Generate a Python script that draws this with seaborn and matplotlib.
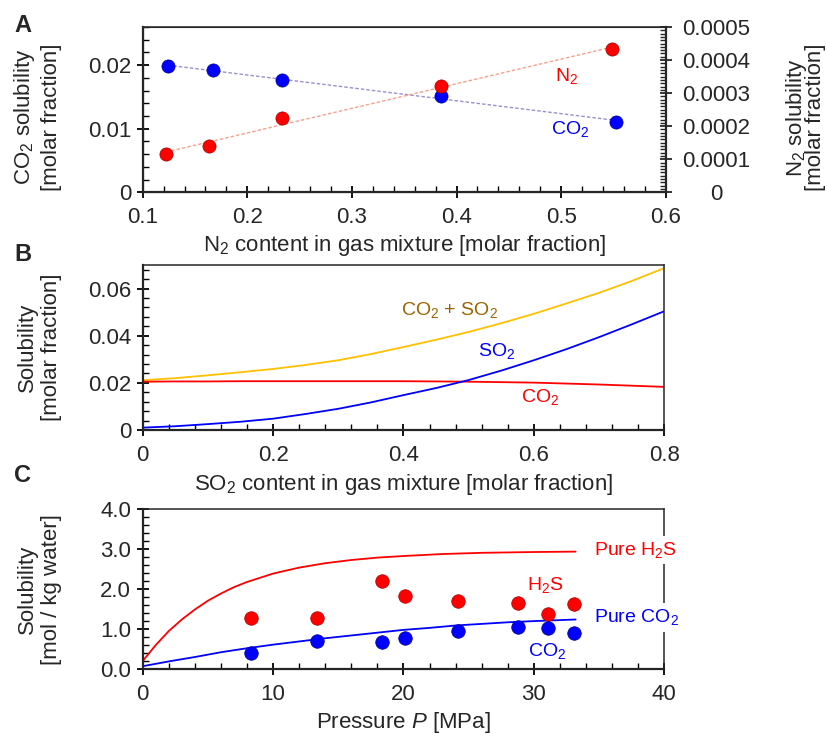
import matplotlib
matplotlib.use("Agg")
import matplotlib.pyplot as plt
import seaborn as sns
import pandas as pd
from matplotlib.ticker import MultipleLocator

sns.set_style("ticks")
plt.rcParams["font.family"] = ["Liberation Sans", "DejaVu Sans"]
plt.rcParams["mathtext.fontset"] = "custom"
plt.rcParams["mathtext.rm"] = "Liberation Sans"
plt.rcParams["mathtext.it"] = "Liberation Sans:italic"
plt.rcParams["mathtext.bf"] = "Liberation Sans:bold"

# ---- Panel A: CO2 / N2 solubility vs N2 content ----
n2_content_co2 = [0.124, 0.167, 0.2335, 0.385, 0.5525]
co2_solubility = [0.0199, 0.0192, 0.0176, 0.0151, 0.0111]
n2_content_n2 = [0.122, 0.1635, 0.2335, 0.385, 0.549]
n2_solubility = [0.000117, 0.000139, 0.000224, 0.000323, 0.000432]
a_xticks = [0.1, 0.2, 0.3, 0.4, 0.5, 0.6]
a_xticklabels = ["0.1", "0.2", "0.3", "0.4", "0.5", "0.6"]
a_yticks = [0, 0.01, 0.02]
a_yticklabels = ["0", "0.01", "0.02"]
a_y2ticks = [0, 0.0001, 0.0002, 0.0003, 0.0004, 0.0005]
a_y2ticklabels = ["0", "0.0001", "0.0002", "0.0003", "0.0004", "0.0005"]

# ---- Panel B: solubility vs SO2 content ----
so2_content = [0.0, 0.05, 0.1, 0.15, 0.2, 0.25, 0.3, 0.35, 0.4,
               0.45, 0.5, 0.55, 0.6, 0.65, 0.7, 0.75, 0.8]
so2_sol = [0.0010, 0.0016, 0.0025, 0.0035, 0.0048, 0.0068, 0.0090, 0.0117, 0.0148,
           0.0178, 0.0212, 0.0252, 0.0296, 0.0343, 0.0394, 0.0448, 0.0504]
co2_sol_b = [0.0205, 0.0206, 0.0206, 0.0207, 0.0207, 0.0207, 0.0207, 0.0207, 0.0207,
             0.0206, 0.0205, 0.0203, 0.0201, 0.0197, 0.0193, 0.0188, 0.0183]
total_sol = [0.0211, 0.0220, 0.0232, 0.0245, 0.0259, 0.0276, 0.0296, 0.0322, 0.0352,
             0.0383, 0.0416, 0.0453, 0.0493, 0.0537, 0.0582, 0.0632, 0.0687]
b_xticks = [0, 0.2, 0.4, 0.6, 0.8]
b_xticklabels = ["0", "0.2", "0.4", "0.6", "0.8"]
b_yticks = [0, 0.02, 0.04, 0.06]
b_yticklabels = ["0", "0.02", "0.04", "0.06"]

# ---- Panel C: solubility vs pressure ----
pressure_pts = [8.3, 13.35, 18.33, 20.15, 24.2, 28.8, 31.06, 33.05]
h2s_pts = [1.28, 1.28, 2.20, 1.83, 1.70, 1.66, 1.39, 1.64]
co2_pts = [0.39, 0.70, 0.68, 0.78, 0.95, 1.06, 1.03, 0.91]
pressure_h2s = [0, 1, 2, 3, 4, 5, 6, 7, 8, 10, 12, 14, 16, 18, 20, 23, 26, 30, 33.2]
pure_h2s = [0.20, 0.60, 0.95, 1.24, 1.49, 1.71, 1.89, 2.05, 2.18, 2.39, 2.54, 2.65,
            2.73, 2.79, 2.83, 2.88, 2.91, 2.93, 2.94]
pressure_co2 = [0, 2, 4, 6, 8, 10, 12, 14, 16, 18, 20, 22, 24, 26, 28, 30, 33.2]
pure_co2 = [0.07, 0.19, 0.30, 0.42, 0.52, 0.61, 0.69, 0.77, 0.84, 0.91, 0.98, 1.03,
            1.09, 1.13, 1.17, 1.20, 1.24]
c_xticks = [0, 10, 20, 30, 40]
c_xticklabels = ["0", "10", "20", "30", "40"]
c_yticks = [0, 1, 2, 3, 4]
c_yticklabels = ["0.0", "1.0", "2.0", "3.0", "4.0"]

RED = "#ff0000"
BLUE = "#0000ff"
FS = 16
LFS = 14

fig = plt.figure(figsize=(8.27, 7.40), dpi=100)
W, H = 827, 740


def box(left, top, right, bottom):
    return [left / W, 1 - bottom / H, (right - left) / W, (bottom - top) / H]


axA = fig.add_axes(box(142.7, 27.0, 665.7, 192.3))
axB = fig.add_axes(box(142.7, 265.0, 664.3, 430.0))
axC = fig.add_axes(box(142.7, 509.3, 664.3, 669.0))


def style_axis(ax):
    for s in ["left", "bottom"]:
        ax.spines[s].set_linewidth(1.6)
    for s in ["top", "right"]:
        ax.spines[s].set_linewidth(1.1)
        ax.spines[s].set_visible(True)
    ax.tick_params(which="major", direction="inout", length=8.6, width=1.3,
                   labelsize=FS, color="black", top=False, right=False)
    ax.tick_params(which="minor", direction="in", length=4, width=1.0,
                   color="black", top=False, right=False)
    ax.tick_params(axis="x", which="major", pad=6.5)
    ax.tick_params(axis="y", which="major", pad=4)
    ax.set_facecolor("white")
    ax.grid(False)


# ---------------- Panel A ----------------
axA2 = axA.twinx()
style_axis(axA)
sns.regplot(x=n2_content_co2, y=co2_solubility, ax=axA, scatter=False, ci=None,
            line_kws=dict(color="#9a90cc", lw=1.0, ls=(0, (2.5, 1.5))))
sns.scatterplot(x=n2_content_co2, y=co2_solubility, ax=axA, color=BLUE, s=90,
                edgecolor="#00008a", linewidth=0.5, zorder=5)
sns.regplot(x=n2_content_n2, y=n2_solubility, ax=axA2, scatter=False, ci=None,
            line_kws=dict(color="#f7a08c", lw=1.0, ls=(0, (2.5, 1.5))))
sns.scatterplot(x=n2_content_n2, y=n2_solubility, ax=axA2, color=RED, s=90,
                edgecolor="#a00000", linewidth=0.5, zorder=5)

axA.set_xlim(0.1, 0.6)
axA.set_ylim(0, 0.026)
axA2.set_ylim(0, 0.0005)
axA.set_xticks(a_xticks, a_xticklabels)
axA.set_yticks(a_yticks, a_yticklabels)
axA.xaxis.set_minor_locator(MultipleLocator(0.02))
axA.yaxis.set_minor_locator(MultipleLocator(0.002))
axA2.set_yticks(a_y2ticks, a_y2ticklabels)
axA2.yaxis.set_minor_locator(MultipleLocator(0.00001))
axA2.spines["right"].set_linewidth(1.6)
axA2.tick_params(axis="y", which="major", direction="inout", length=8.6, width=1.3,
                 labelsize=FS, pad=32, right=True, left=False)
axA2.tick_params(axis="y", which="minor", direction="in", length=4, width=1.0,
                 right=True, left=False)
for lab in axA2.get_yticklabels():
    lab.set_horizontalalignment("center")

axA.set_xlabel("N$_2$ content in gas mixture [molar fraction]", fontsize=FS)
axA.set_ylabel("CO$_2$ solubility\n[molar fraction]", fontsize=FS)
axA2.set_ylabel("N$_2$ solubility\n[molar fraction]", fontsize=FS, linespacing=0.75)
axA.yaxis.set_label_coords(-0.155, 0.455)
axA2.yaxis.set_label_coords(1.226, 0.455)
axA.xaxis.set_label_coords(0.5, -0.245)

axA2.text(0.5053, 0.000352, "N$_2$", color=RED, fontsize=LFS, ha="center", va="center")
axA.text(0.5085, 0.0100, "CO$_2$", color=BLUE, fontsize=LFS, ha="center", va="center")

# ---------------- Panel B ----------------
style_axis(axB)
dfB = pd.DataFrame({"x": so2_content, "so2": so2_sol, "co2": co2_sol_b, "tot": total_sol})
sns.lineplot(data=dfB, x="x", y="tot", ax=axB, color="#ffc000", lw=1.3)
sns.lineplot(data=dfB, x="x", y="co2", ax=axB, color=RED, lw=1.3)
sns.lineplot(data=dfB, x="x", y="so2", ax=axB, color=BLUE, lw=1.3)
axB.set_xlim(0, 0.8)
axB.set_ylim(0, 0.07)
axB.set_xticks(b_xticks, b_xticklabels)
axB.set_yticks(b_yticks, b_yticklabels)
axB.xaxis.set_minor_locator(MultipleLocator(0.04))
axB.yaxis.set_minor_locator(MultipleLocator(0.004))
axB.set_xlabel("SO$_2$ content in gas mixture [molar fraction]", fontsize=FS)
axB.set_ylabel("Solubility\n[molar fraction]", fontsize=FS)
axB.yaxis.set_label_coords(-0.155, 0.5)
axB.xaxis.set_label_coords(0.5, -0.255)
axB.text(0.4698, 0.0507, "CO$_2$ + SO$_2$", color="#9a6500", fontsize=LFS,
         ha="center", va="center")
axB.text(0.543, 0.0335, "SO$_2$", color=BLUE, fontsize=LFS, ha="center", va="center")
axB.text(0.6094, 0.0138, "CO$_2$", color=RED, fontsize=LFS, ha="center", va="center")

# ---------------- Panel C ----------------
style_axis(axC)
sns.lineplot(x=pressure_h2s, y=pure_h2s, ax=axC, color=RED, lw=1.3)
sns.lineplot(x=pressure_co2, y=pure_co2, ax=axC, color=BLUE, lw=1.3)
sns.scatterplot(x=pressure_pts, y=h2s_pts, ax=axC, color=RED, s=95,
                edgecolor="#a00000", linewidth=0.5, zorder=5)
sns.scatterplot(x=pressure_pts, y=co2_pts, ax=axC, color=BLUE, s=95,
                edgecolor="#00008a", linewidth=0.5, zorder=5)
axC.set_xlim(0, 40)
axC.set_ylim(0, 4)
axC.set_xticks(c_xticks, c_xticklabels)
axC.set_yticks(c_yticks, c_yticklabels)
axC.xaxis.set_minor_locator(MultipleLocator(2))
axC.yaxis.set_minor_locator(MultipleLocator(0.2))
axC.set_xlabel("Pressure $P$ [MPa]", fontsize=FS)
axC.set_ylabel("Solubility\n[mol / kg water]", fontsize=FS)
axC.yaxis.set_label_coords(-0.155, 0.5)
axC.xaxis.set_label_coords(0.5, -0.255)
white = dict(facecolor="white", edgecolor="none", pad=3)
axC.text(34.63, 2.975, "Pure H$_2$S", color=RED, fontsize=LFS, ha="left",
         va="center", bbox=white, zorder=6, clip_on=False)
axC.text(34.63, 1.29, "Pure CO$_2$", color=BLUE, fontsize=LFS, ha="left",
         va="center", bbox=white, zorder=6, clip_on=False)
axC.text(30.9, 2.10, "H$_2$S", color=RED, fontsize=LFS, ha="center", va="center")
axC.text(30.98, 0.46, "CO$_2$", color=BLUE, fontsize=LFS, ha="center", va="center")

# Panel letters
for letter, ypx in [("A", 25), ("B", 255), ("C", 476)]:
    fig.text(14 / W, 1 - ypx / H, letter, fontsize=17, fontweight="bold",
             ha="left", va="center")

fig.savefig("out.png", dpi=100, facecolor="white")
